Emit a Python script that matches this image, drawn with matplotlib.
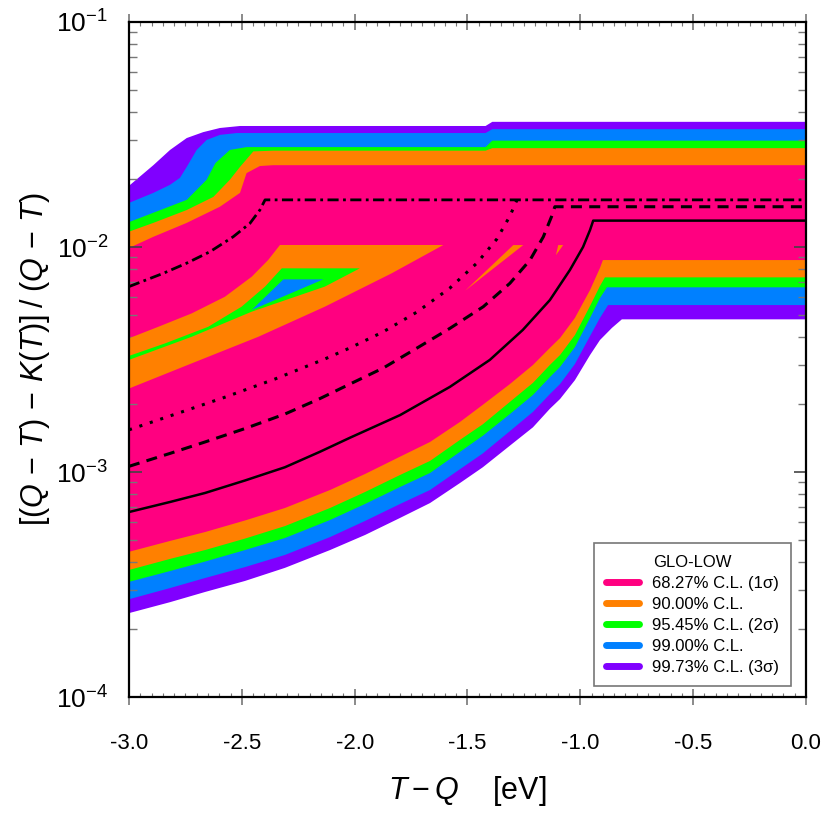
import matplotlib
matplotlib.use("Agg")
import matplotlib.pyplot as plt
from matplotlib.lines import Line2D
from matplotlib.ticker import FixedLocator, FixedFormatter, MultipleLocator, LogLocator, NullFormatter

plt.rcParams['font.family'] = ['Liberation Sans', 'DejaVu Sans']
plt.rcParams['mathtext.fontset'] = 'custom'
plt.rcParams['mathtext.rm'] = 'Liberation Sans'
plt.rcParams['mathtext.it'] = 'Liberation Sans:italic'

# colours of the confidence levels
c_1s = '#ff0080'
c_90 = '#ff8000'
c_2s = '#00ff00'
c_99 = '#0080ff'
c_3s = '#8000ff'

# upper edges of the allowed regions (T-Q in eV, ratio)
purple_up_x = [-3.0, -2.892, -2.818, -2.744, -2.671, -2.597, -2.508, -1.42, -1.39, 0.0]
purple_up_y = [0.0187, 0.0231, 0.0270, 0.0305, 0.0324, 0.0338, 0.0345, 0.0345, 0.0360, 0.0360]
blue_up_x = [-3.0, -2.892, -2.818, -2.774, -2.744, -2.70, -2.656, -2.597, -2.523, -1.42, -1.39, 0.0]
blue_up_y = [0.0157, 0.0174, 0.0189, 0.0203, 0.0227, 0.0270, 0.0299, 0.0315, 0.0321, 0.0321, 0.0334, 0.0334]
green_up_x = [-3.0, -2.892, -2.744, -2.656, -2.617, -2.553, -2.479, -1.42, -1.39, 0.0]
green_up_y = [0.0129, 0.0142, 0.0162, 0.0199, 0.0236, 0.0270, 0.0278, 0.0278, 0.0297, 0.0297]
orange_up_x = [-3.0, -2.892, -2.744, -2.626, -2.553, -2.508, -2.449, -2.36, -1.42, -1.39, 0.0]
orange_up_y = [0.0117, 0.0128, 0.0146, 0.0167, 0.0199, 0.0227, 0.0266, 0.0268, 0.0268, 0.0275, 0.0275]
pink_up_x = [-3.0, -2.892, -2.744, -2.597, -2.508, -2.479, -2.42, -2.361, 0.0]
pink_up_y = [0.0099, 0.0111, 0.0128, 0.0151, 0.0174, 0.0213, 0.0229, 0.0231, 0.0231]

# lower edges
lo_x = [-3.0, -2.818, -2.663, -2.486, -2.309, -2.109, -1.954, -1.799, -1.666, -1.533,
        -1.432, -1.312, -1.210, -1.135, -1.090, -1.024, -0.957, -0.913]
pink_lo_y = [4.42e-4, 4.94e-4, 5.41e-4, 6.09e-4, 6.92e-4, 8.32e-4, 9.80e-4, 1.17e-3, 1.36e-3, 1.67e-3,
             1.99e-3, 2.46e-3, 2.99e-3, 3.56e-3, 3.94e-3, 4.84e-3, 6.44e-3, 8.07e-3]
orange_lo_y = [3.67e-4, 4.11e-4, 4.50e-4, 5.06e-4, 5.75e-4, 6.92e-4, 8.15e-4, 9.70e-4, 1.12e-3, 1.39e-3,
               1.63e-3, 2.05e-3, 2.49e-3, 2.99e-3, 3.31e-3, 4.06e-3, 5.47e-3, 6.71e-3]
green_lo_y = [3.25e-4, 3.63e-4, 4.00e-4, 4.50e-4, 5.09e-4, 6.12e-4, 7.21e-4, 8.58e-4, 9.90e-4, 1.23e-3,
              1.45e-3, 1.81e-3, 2.20e-3, 2.64e-3, 2.93e-3, 3.59e-3, 4.84e-3, 5.93e-3]
blue_lo_y = [2.72e-4, 3.05e-4, 3.38e-4, 3.78e-4, 4.28e-4, 5.14e-4, 6.06e-4, 7.21e-4, 8.32e-4, 1.03e-3,
             1.21e-3, 1.52e-3, 1.85e-3, 2.22e-3, 2.46e-3, 3.02e-3, 4.02e-3, 4.84e-3]
purple_lo_y = [2.36e-4, 2.64e-4, 2.93e-4, 3.28e-4, 3.75e-4, 4.50e-4, 5.25e-4, 6.25e-4, 7.28e-4, 8.94e-4,
               1.05e-3, 1.31e-3, 1.58e-3, 1.91e-3, 2.11e-3, 2.56e-3, 3.31e-3, 3.86e-3]
# corners where the lower edges turn flat
pink_corner = [(-0.900, 8.75e-3), (0.0, 8.75e-3)]
orange_corner = [(-0.891, 7.33e-3), (0.0, 7.33e-3)]
green_corner = [(-0.882, 6.62e-3), (0.0, 6.62e-3)]
blue_corner = [(-0.877, 5.52e-3), (0.0, 5.52e-3)]
purple_corner = [(-0.860, 4.37e-3), (-0.816, 4.77e-3), (0.0, 4.77e-3)]

# island inside the 1 sigma region (closed outlines)
isl_orange_x = [-2.331, -1.607, -1.836, -2.132, -2.427, -2.722, -3.0, -3.0, -2.870, -2.722, -2.575, -2.456, -2.383]
isl_orange_y = [0.01021, 0.01021, 0.00764, 0.00543, 0.00399, 0.00304, 0.00235, 0.00393, 0.00442, 0.00507, 0.00601, 0.00738, 0.00876]
isl_green_x = [-2.323, -1.977, -2.132, -2.456, -2.722, -3.0, -3.0, -2.840, -2.649, -2.501, -2.397]
isl_green_y = [0.00804, 0.00804, 0.00667, 0.00516, 0.00399, 0.00315, 0.00328, 0.00373, 0.00442, 0.00543, 0.00667]
isl_blue_x = [-2.316, -2.139, -2.456]
isl_blue_y = [0.00718, 0.00718, 0.00525]
sliver1_x = [-1.297, -1.253, -1.51]
sliver1_y = [0.0102, 0.0102, 0.0064]
sliver2_x = [-1.098, -1.076, -1.108]
sliver2_y = [0.0102, 0.0102, 0.0092]

# black curves
solid_x = [-3.0, -2.818, -2.663, -2.486, -2.309, -2.154, -2.021, -1.799, -1.578, -1.401, -1.255,
           -1.135, -1.046, -0.988, -0.957, -0.943, 0.0]
solid_y = [6.64e-4, 7.36e-4, 8.07e-4, 9.17e-4, 1.05e-3, 1.23e-3, 1.42e-3, 1.79e-3, 2.39e-3, 3.15e-3, 4.28e-3,
           5.81e-3, 7.91e-3, 1.0e-2, 1.19e-2, 1.31e-2, 1.31e-2]
dashed_x = [-3.0, -2.818, -2.663, -2.486, -2.309, -2.154, -2.021, -1.873, -1.725, -1.578, -1.430,
            -1.312, -1.223, -1.164, -1.127, -1.113, 0.0]
dashed_y = [1.06e-3, 1.21e-3, 1.36e-3, 1.56e-3, 1.81e-3, 2.12e-3, 2.46e-3, 2.90e-3, 3.55e-3, 4.35e-3, 5.43e-3,
            6.90e-3, 8.75e-3, 1.11e-2, 1.37e-2, 1.51e-2, 1.51e-2]
dotted_x = [-3.0, -2.752, -2.575, -2.353, -2.132, -2.021, -1.875, -1.724, -1.578, -1.458, -1.370, -1.312, -1.281]
dotted_y = [1.54e-3, 1.87e-3, 2.15e-3, 2.59e-3, 3.18e-3, 3.56e-3, 4.19e-3, 5.14e-3, 6.57e-3, 8.49e-3, 1.085e-2, 1.373e-2, 1.618e-2]
dashdot_x = [-3.0, -2.848, -2.744, -2.641, -2.538, -2.464, -2.420, -2.397, 0.0]
dashdot_y = [0.00667, 0.00764, 0.00848, 0.00953, 0.01111, 0.01274, 0.01460, 0.0162, 0.0162]

legend_labels = ['68.27% C.L. (1\u03c3)', '90.00% C.L.', '95.45% C.L. (2\u03c3)',
                 '99.00% C.L.', '99.73% C.L. (3\u03c3)']
xticks = [-3.0, -2.5, -2.0, -1.5, -1.0, -0.5, 0.0]
xtick_labels = ['-3.0', '-2.5', '-2.0', '-1.5', '-1.0', '-0.5', '0.0']


fig = plt.figure(figsize=(8.3, 8.3), dpi=100)
ax = fig.add_axes([0.1554, 0.1602, 0.8157, 0.8133])
ax.set_yscale('log')

bands = [(purple_up_x, purple_up_y, purple_lo_y, purple_corner, c_3s),
         (blue_up_x, blue_up_y, blue_lo_y, blue_corner, c_99),
         (green_up_x, green_up_y, green_lo_y, green_corner, c_2s),
         (orange_up_x, orange_up_y, orange_lo_y, orange_corner, c_90),
         (pink_up_x, pink_up_y, pink_lo_y, pink_corner, c_1s)]
for ux, uy, ly, corner, col in bands:
    lx_all = lo_x + [p[0] for p in corner]
    ly_all = ly + [p[1] for p in corner]
    ax.fill(ux + lx_all[::-1], uy + ly_all[::-1], color=col, lw=0, zorder=1)

ax.fill(isl_orange_x, isl_orange_y, color=c_90, lw=0, zorder=2)
ax.fill(isl_green_x, isl_green_y, color=c_2s, lw=0, zorder=3)
ax.fill(isl_blue_x, isl_blue_y, color=c_99, lw=0, zorder=4)
ax.fill(sliver1_x, sliver1_y, color=c_90, lw=0, zorder=2)
ax.fill(sliver2_x, sliver2_y, color=c_90, lw=0, zorder=2)

ax.plot(solid_x, solid_y, color='k', lw=1.8, zorder=5)
ax.plot(dashed_x, dashed_y, color='k', lw=2.2, dashes=(3.6, 2.4), zorder=5)
ax.plot(dotted_x, dotted_y, color='k', lw=2.2, dashes=(1.0, 2.6), zorder=5)
ax.plot(dashdot_x, dashdot_y, color='k', lw=2.0, dashes=(4.0, 1.6, 1.0, 1.6), zorder=5)

ax.set_xlim(-3.0, 0.0)
ax.set_ylim(1e-4, 1e-1)

ax.xaxis.set_major_locator(FixedLocator(xticks))
ax.xaxis.set_major_formatter(FixedFormatter(xtick_labels))
ax.xaxis.set_minor_locator(MultipleLocator(0.05))
ax.yaxis.set_major_locator(LogLocator(base=10, numticks=10))
ax.yaxis.set_minor_locator(LogLocator(base=10, subs=range(2, 10), numticks=20))
ax.yaxis.set_minor_formatter(NullFormatter())

ax.tick_params(axis='x', which='major', direction='inout', length=12, width=1.2,
               color='#777777', labelsize=16, pad=20, top=True)
ax.tick_params(axis='x', which='minor', direction='in', length=3, width=0.8,
               color='#777777', top=True)
ax.tick_params(axis='y', which='major', direction='in', length=9, width=1.2,
               color='#444444', labelsize=19, pad=15, right=True)
ax.tick_params(axis='y', which='minor', direction='in', length=6, width=1.0,
               color='#777777', right=True)

for sp in ax.spines.values():
    sp.set_linewidth(1.6)
    sp.set_zorder(10)

ax.set_xlabel(r'$T-Q$    [eV]', fontsize=22, labelpad=14)
ax.set_ylabel(r'$[(Q\,-\,T)\,-\,K(T)]\;/\;(Q\,-\,T)$', fontsize=22)
ax.yaxis.set_label_coords(-0.114, 0.5)

handles = [Line2D([0], [0], color=c, lw=5, solid_capstyle='round')
           for c in [c_1s, c_90, c_2s, c_99, c_3s]]
leg = ax.legend(handles, legend_labels, title='GLO-LOW', loc='lower right',
                bbox_to_anchor=(0.978, 0.016), borderaxespad=0, fontsize=12,
                title_fontsize=12, fancybox=False, framealpha=1, edgecolor='#777777',
                handlelength=2.0, handletextpad=0.8, labelspacing=0.36,
                borderpad=0.7)
leg.get_frame().set_linewidth(1.2)
leg.set_zorder(20)

fig.savefig('out.png', dpi=100)
